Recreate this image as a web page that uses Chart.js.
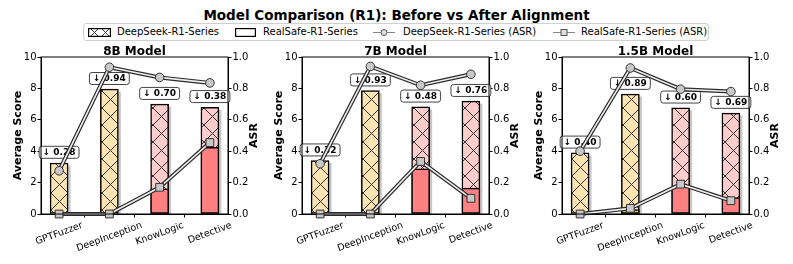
<!DOCTYPE html>
<html>
<head>
<meta charset="utf-8">
<script src="https://cdn.jsdelivr.net/npm/chart.js@4.4.1/dist/chart.umd.min.js"></script>
<style>
  body { margin: 0; background: #fff; width: 793px; height: 264px; overflow: hidden; position: relative; font-family: 'DejaVu Sans', sans-serif; }
  #title { position: absolute; top: 7px; left: 0; width: 793px; text-align: center; font-weight: bold; font-size: 13.5px; line-height: 16px; }
  #legend { position: absolute; left: 83px; top: 23px; width: 624px; height: 16px; border: 1px solid #d0d0d0; border-radius: 3px; background: rgba(255,255,255,0.8); }
  #legend canvas, #legend span { position: absolute; }
  #legend span { font-size: 10px; top: 2px; line-height: 12px; white-space: nowrap; }
  .chart { position: absolute; top: 40px; }
</style>
</head>
<body>
<div id="title">Model Comparison (R1): Before vs After Alignment</div>
<div id="legend"></div>
<canvas class="chart" id="c0" width="270" height="224" style="left:0px"></canvas>
<canvas class="chart" id="c1" width="270" height="224" style="left:261px"></canvas>
<canvas class="chart" id="c2" width="270" height="224" style="left:521px"></canvas>
<script>
// data
const categories = ['GPTFuzzer', 'DeepInception', 'KnowLogic', 'Detective'];
const models = ['8B Model', '7B Model', '1.5B Model'];
const deepseekScore = [
  [3.25, 7.95, 7.0, 6.8],
  [3.4, 7.86, 6.83, 7.19],
  [3.9, 7.64, 6.77, 6.43]
];
const realsafeScore = [
  [0.05, 0.05, 1.6, 4.25],
  [0.05, 0.05, 2.87, 1.65],
  [0.05, 0.28, 1.74, 1.04]
];
const deepseekASR = [
  [0.275, 0.935, 0.87, 0.835],
  [0.32, 0.94, 0.82, 0.89],
  [0.40, 0.93, 0.795, 0.78]
];
const realsafeASR = [
  [0.0, 0.0, 0.17, 0.455],
  [0.0, 0.0, 0.335, 0.1],
  [0.0, 0.036, 0.19, 0.085]
];
const dropLabels = [
  ['0.28', '0.94', '0.70', '0.38'],
  ['0.32', '0.93', '0.48', '0.76'],
  ['0.40', '0.89', '0.60', '0.69']
];
const scoreTicks = [0, 2, 4, 6, 8, 10];
const asrTicks = [0, 0.2, 0.4, 0.6, 0.8, 1.0];

const lightColors = ['#FFE4B3', '#FFE4B3', '#FFCCCC', '#FFCCCC'];
const solidColors = ['#F5B84A', '#F5B84A', '#FF8080', '#FF8080'];
const FONT = "'DejaVu Sans', sans-serif";

function hatch(bg) {
  const s = 17;
  const c = document.createElement('canvas');
  c.width = s; c.height = s;
  const g = c.getContext('2d');
  g.fillStyle = bg;
  g.fillRect(0, 0, s, s);
  g.strokeStyle = '#333';
  g.lineWidth = 1;
  g.beginPath();
  g.moveTo(-1, -1); g.lineTo(s + 1, s + 1);
  g.moveTo(s + 1, -1); g.lineTo(-1, s + 1);
  g.stroke();
  return g.createPattern(c, 'repeat');
}

// legend
function legendIcon(left, w, h, draw) {
  const c = document.createElement('canvas');
  c.width = w; c.height = h;
  c.style.left = left + 'px';
  c.style.top = ((16 - h) / 2) + 'px';
  draw(c.getContext('2d'), w, h);
  document.getElementById('legend').appendChild(c);
}
function legendText(left, txt) {
  const s = document.createElement('span');
  s.style.left = left + 'px';
  s.textContent = txt;
  document.getElementById('legend').appendChild(s);
}
legendIcon(4, 23, 9, (g, w, h) => {
  g.fillStyle = '#fff'; g.fillRect(0, 0, w, h);
  g.save(); g.beginPath(); g.rect(1, 1, w - 2, h - 2); g.clip();
  g.strokeStyle = '#333'; g.lineWidth = 1; g.beginPath();
  for (let k = -20; k < 40; k += 11) { g.moveTo(k, 0); g.lineTo(k + 9, h); g.moveTo(k + 9, 0); g.lineTo(k, h); }
  g.stroke(); g.restore();
  g.strokeStyle = '#000'; g.lineWidth = 1.2; g.strokeRect(0.6, 0.6, w - 1.2, h - 1.2);
});
legendText(33, 'DeepSeek-R1-Series');
legendIcon(151, 21, 9, (g, w, h) => {
  g.fillStyle = '#fff'; g.fillRect(0, 0, w, h);
  g.strokeStyle = '#000'; g.lineWidth = 1.2; g.strokeRect(0.6, 0.6, w - 1.2, h - 1.2);
});
legendText(179, 'RealSafe-R1-Series');
legendIcon(289, 22, 9, (g, w, h) => {
  g.strokeStyle = '#888'; g.lineWidth = 1; g.beginPath(); g.moveTo(0, 4.5); g.lineTo(w, 4.5); g.stroke();
  g.fillStyle = '#ddd'; g.strokeStyle = '#555'; g.beginPath(); g.arc(w / 2, 4.5, 3, 0, Math.PI * 2); g.fill(); g.stroke();
});
legendText(319, 'DeepSeek-R1-Series (ASR)');
legendIcon(469, 22, 9, (g, w, h) => {
  g.strokeStyle = '#888'; g.lineWidth = 1; g.beginPath(); g.moveTo(0, 4.5); g.lineTo(w, 4.5); g.stroke();
  g.fillStyle = '#ddd'; g.strokeStyle = '#555'; g.fillRect(w / 2 - 3, 1.5, 6, 6); g.strokeRect(w / 2 - 3, 1.5, 6, 6);
});
legendText(497, 'RealSafe-R1-Series (ASR)');

const decorPlugin = {
  id: 'decor',
  beforeDatasetDraw(chart, args) {
    if (args.index !== 0) return;
    const ctx = chart.ctx, area = chart.chartArea;
    ctx.save();
    ctx.beginPath(); ctx.rect(area.left, area.top, area.right - area.left, area.bottom - area.top); ctx.clip();
    ctx.fillStyle = 'rgba(0,0,0,0.22)';
    args.meta.data.forEach(el => {
      const p = el.getProps(['x', 'y', 'base', 'width'], true);
      ctx.fillRect(p.x - p.width / 2 + 2.5, p.y + 2.5, p.width, p.base - p.y);
    });
    ctx.restore();
  },
  afterDatasetDraw(chart, args) {
    if (args.index !== 1) return;
    const m = chart.options.plugins.decor.model;
    const ctx = chart.ctx, xs = chart.scales.x, ys = chart.scales.y;
    ctx.save();
    ctx.font = 'bold 9px ' + FONT;
    ctx.textAlign = 'center';
    ctx.textBaseline = 'middle';
    categories.forEach((c, i) => {
      const txt = '\u2193 ' + dropLabels[m][i];
      const px = xs.getPixelForValue(i);
      const py = ys.getPixelForValue(deepseekScore[m][i] + 0.68);
      const w = ctx.measureText(txt).width + 7, h = 12;
      ctx.beginPath();
      ctx.roundRect(px - w / 2, py - h / 2, w, h, 2.5);
      ctx.fillStyle = '#fff'; ctx.fill();
      ctx.strokeStyle = '#444'; ctx.lineWidth = 1; ctx.stroke();
      ctx.fillStyle = '#000';
      ctx.fillText(txt, px, py + 0.5);
    });
    ctx.restore();
  },
  afterDraw(chart) {
    const m = chart.options.plugins.decor.model;
    const ctx = chart.ctx, a = chart.chartArea, xs = chart.scales.x;
    ctx.save();
    // frame
    ctx.strokeStyle = '#000'; ctx.lineWidth = 1;
    ctx.strokeRect(a.left, a.top, a.right - a.left, a.bottom - a.top);
    // subplot title
    ctx.fillStyle = '#000';
    ctx.font = 'bold 12px ' + FONT;
    ctx.textAlign = 'center'; ctx.textBaseline = 'middle';
    ctx.fillText(models[m], (a.left + a.right) / 2, 11.5);
    // axis titles
    ctx.font = 'bold 11px ' + FONT;
    const midY = (a.top + a.bottom) / 2;
    ctx.save(); ctx.translate(18, midY); ctx.rotate(-Math.PI / 2); ctx.fillText('Average Score', 0, 0); ctx.restore();
    ctx.save(); ctx.translate(a.right + 26, midY); ctx.rotate(-Math.PI / 2); ctx.fillText('ASR', 0, 0); ctx.restore();
    // rotated category labels, centred under ticks like matplotlib
    ctx.font = '9.5px ' + FONT;
    const ang = 20 * Math.PI / 180;
    categories.forEach((c, i) => {
      const w = ctx.measureText(c).width, h = 11;
      const H = w * Math.sin(ang) + h * Math.cos(ang);
      const px = xs.getPixelForValue(i);
      ctx.save();
      ctx.translate(px, a.bottom + 6 + H / 2);
      ctx.rotate(-ang);
      ctx.fillText(c, 0, 0);
      ctx.restore();
    });
    ctx.restore();
  }
};

const axisLine = { display: true, color: '#000', width: 1 };
const tickMarks = { display: true, drawOnChartArea: false, drawTicks: true, tickLength: 3.5, color: '#000', lineWidth: 1 };

models.forEach((name, m) => {
  const pts = arr => arr.map((v, i) => ({ x: i, y: v }));
  new Chart(document.getElementById('c' + m), {
    type: 'bar',
    data: {
      datasets: [
        {
          type: 'bar', label: 'DeepSeek-R1-Series', data: pts(deepseekScore[m]), yAxisID: 'y',
          backgroundColor: lightColors.map(hatch), borderColor: '#000', borderWidth: 1.5,
          borderSkipped: false, barThickness: 18, grouped: false, order: 10
        },
        {
          type: 'bar', label: 'RealSafe-R1-Series', data: pts(realsafeScore[m]), yAxisID: 'y',
          backgroundColor: solidColors, borderColor: '#000', borderWidth: 1.5,
          borderSkipped: false, barThickness: 18, grouped: false, order: 9
        },
        {
          type: 'line', data: pts(deepseekASR[m]), yAxisID: 'y1', borderColor: '#2a2a2a', borderWidth: 4,
          pointRadius: 0, fill: false, clip: false, order: 4
        },
        {
          type: 'line', label: 'DeepSeek-R1-Series (ASR)', data: pts(deepseekASR[m]), yAxisID: 'y1',
          borderColor: '#eeeeee', borderWidth: 1.6, pointRadius: 4.3, pointBackgroundColor: '#c8c8c8',
          pointBorderColor: '#333', pointBorderWidth: 1, fill: false, clip: false, order: 3
        },
        {
          type: 'line', data: pts(realsafeASR[m]), yAxisID: 'y1', borderColor: '#2a2a2a', borderWidth: 4,
          pointRadius: 0, fill: false, clip: false, order: 2
        },
        {
          type: 'line', label: 'RealSafe-R1-Series (ASR)', data: pts(realsafeASR[m]), yAxisID: 'y1',
          borderColor: '#eeeeee', borderWidth: 1.6, pointStyle: 'rect', pointRadius: 5.5,
          pointBackgroundColor: '#c8c8c8', pointBorderColor: '#333', pointBorderWidth: 1,
          fill: false, clip: false, order: 1
        }
      ]
    },
    options: {
      responsive: false,
      animation: false,
      layout: { padding: { top: 17, left: 0, right: 0, bottom: 0 } },
      plugins: {
        legend: { display: false },
        tooltip: { enabled: false },
        title: { display: false },
        decor: { model: m }
      },
      scales: {
        x: {
          type: 'linear', min: -0.36, max: 3.36, offset: false,
          afterBuildTicks: s => { s.ticks = categories.map((c, i) => ({ value: i })); },
          afterFit: s => { s.height = 50; },
          ticks: { display: false },
          grid: tickMarks, border: axisLine
        },
        y: {
          position: 'left', min: 0, max: 10,
          afterBuildTicks: s => { s.ticks = scoreTicks.map(v => ({ value: v })); },
          afterFit: s => { s.width = 41; },
          ticks: { color: '#000', padding: 1, font: { family: FONT, size: 10 } },
          grid: tickMarks, border: axisLine
        },
        y1: {
          position: 'right', min: 0, max: 1,
          afterBuildTicks: s => { s.ticks = asrTicks.map(v => ({ value: v })); },
          afterFit: s => { s.width = 42; },
          ticks: { color: '#000', padding: 1, font: { family: FONT, size: 10 }, callback: v => v.toFixed(1) },
          grid: tickMarks, border: axisLine
        }
      }
    },
    plugins: [decorPlugin]
  });
});
</script>
</body>
</html>
